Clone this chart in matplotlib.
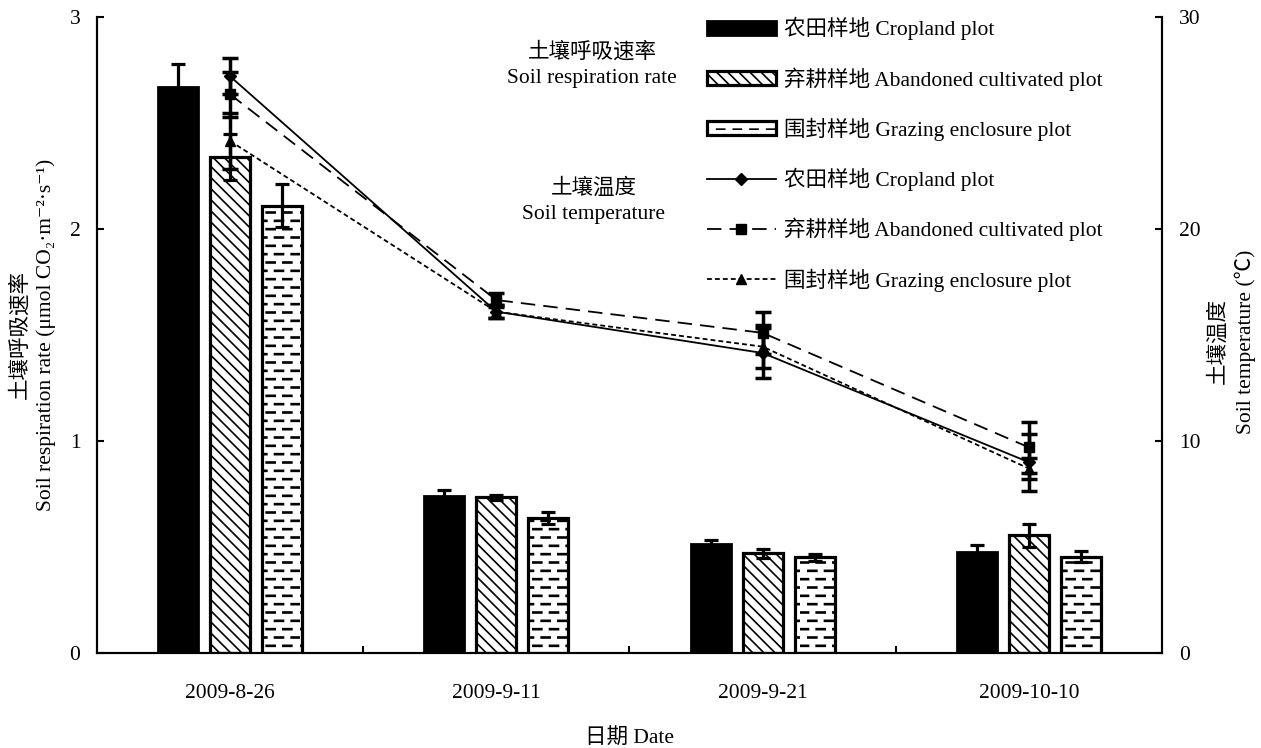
import warnings
import numpy as np
import matplotlib
matplotlib.use('Agg')
import matplotlib.pyplot as plt
import matplotlib.hatch as mhatch
from matplotlib.path import Path

warnings.filterwarnings('ignore')

plt.rcParams['font.family'] = ['Liberation Serif', 'Noto Sans CJK SC', 'DejaVu Sans']
plt.rcParams['font.size'] = 15.5
plt.rcParams['hatch.linewidth'] = 1.2

dates = ['2009-8-26', '2009-9-11', '2009-9-21', '2009-10-10']

# soil respiration rate (umol CO2 m-2 s-1), bars
resp_crop = [2.67, 0.74, 0.515, 0.475]
resp_crop_err = [0.11, 0.03, 0.02, 0.035]
resp_aband = [2.34, 0.735, 0.47, 0.555]
resp_aband_err = [0.11, 0.012, 0.022, 0.055]
resp_graz = [2.11, 0.635, 0.452, 0.455]
resp_graz_err = [0.1, 0.028, 0.016, 0.025]

# soil temperature (deg C), lines
temp_crop = [27.2, 16.1, 14.15, 9.0]
temp_crop_err = [0.85, 0.3, 1.2, 1.35]
temp_aband = [26.35, 16.65, 15.1, 9.7]
temp_aband_err = [1.05, 0.35, 1.0, 1.2]
temp_graz = [24.15, 16.1, 14.45, 8.7]
temp_graz_err = [1.3, 0.3, 1.0, 0.5]

lbl_crop = '农田样地 Cropland plot'
lbl_aband = '弃耕样地 Abandoned cultivated plot'
lbl_graz = '围封样地 Grazing enclosure plot'


# short staggered dashes, used as fill for the enclosure bars ('_')
class DashRowHatch(mhatch.HatchPatternBase):
    rows = 12
    per_row = 6
    length = 0.08

    def __init__(self, hatch, density):
        self.num_vertices = self.rows * self.per_row * 2 if '_' in hatch else 0

    def set_vertices_and_codes(self, vertices, codes):
        k = 0
        for i in range(self.rows):
            y = (i + 0.5) / self.rows
            shift = 0.5 / self.per_row if i % 2 else 0.0
            for j in range(self.per_row):
                x0 = j / self.per_row + shift
                vertices[k] = (x0, y)
                vertices[k + 1] = (x0 + self.length, y)
                codes[k] = Path.MOVETO
                codes[k + 1] = Path.LINETO
                k += 2


mhatch._hatch_types.append(DashRowHatch)

fig = plt.figure(figsize=(12.61, 7.48), dpi=100)
ax = fig.add_axes([0.0769, 0.127, 0.8446, 0.8503])
ax2 = ax.twinx()

x = np.arange(len(dates))
w = 0.15
off = 0.195
ekw = dict(elinewidth=2.3, capsize=5, capthick=2.3, ecolor='black')

b1 = ax.bar(x - off, resp_crop, w, yerr=resp_crop_err, color='black',
            edgecolor='black', linewidth=2, error_kw=ekw)
b2 = ax.bar(x, resp_aband, w, yerr=resp_aband_err, color='white',
            edgecolor='black', hatch='\\\\\\', linewidth=2.3, error_kw=ekw)
with plt.rc_context({'hatch.linewidth': 1.9}):
    b3 = ax.bar(x + off, resp_graz, w, yerr=resp_graz_err, color='white',
                edgecolor='black', hatch='_', linewidth=2.3, error_kw=ekw)

ax.set_xlim(-0.5, 3.5)
ax.set_ylim(0, 3)
ax.set_yticks([0, 1, 2, 3])
ax.set_xticks(x)
ax.set_xticklabels(dates)
ax.set_xticks([0.5, 1.5, 2.5], minor=True)
ax.tick_params(axis='x', which='major', length=0, pad=22)
ax.tick_params(axis='x', which='minor', direction='in', length=5, width=1.5)
ax.tick_params(axis='y', direction='in', length=5, width=1.5, pad=12)

# temperature on the right axis
ax2.set_ylim(0, 30)
ax2.set_yticks([0, 10, 20, 30])
ax2.tick_params(axis='y', direction='in', length=5, width=1.5, pad=12)
ebkw = dict(fmt='none', ecolor='black', elinewidth=2.5, capsize=6, capthick=2.5)
ax2.errorbar(x, temp_crop, yerr=temp_crop_err, **ebkw)
ax2.errorbar(x, temp_aband, yerr=temp_aband_err, **ebkw)
ax2.errorbar(x, temp_graz, yerr=temp_graz_err, **ebkw)
l1, = ax2.plot(x, temp_crop, color='black', lw=1.3, marker='D', ms=6)
l2, = ax2.plot(x, temp_aband, color='black', lw=1.3, ls=(0, (8, 4.5)),
               marker='s', ms=7)
l3, = ax2.plot(x, temp_graz, color='black', lw=1.3, ls=(0, (2.7, 1.7)),
               marker='^', ms=7)

for a in (ax, ax2):
    a.spines['top'].set_visible(False)
    for s in ('left', 'right', 'bottom'):
        a.spines[s].set_linewidth(1.5)

ax.set_ylabel('土壤呼吸速率\nSoil respiration rate (μmol CO₂·m⁻²·s⁻¹)',
              va='center', linespacing=1.35)
ax.yaxis.set_label_coords(-0.06, 0.5)
ax2.set_ylabel('土壤温度\nSoil temperature (℃)', va='center', linespacing=1.35)
ax2.yaxis.set_label_coords(1.066, 0.49)
ax.set_xlabel('日期 Date', labelpad=19)

fig.text(592 / 1261, 1 - 65 / 748, '土壤呼吸速率\nSoil respiration rate',
         ha='center', va='center', linespacing=1.45)
fig.text(594 / 1261, 1 - 201 / 748, '土壤温度\nSoil temperature',
         ha='center', va='center', linespacing=1.45)

ax2.legend([b1, b2, b3, l1, l2, l3],
           [lbl_crop, lbl_aband, lbl_graz, lbl_crop, lbl_aband, lbl_graz],
           loc='upper left', bbox_to_anchor=(707 / 1261, 1 - 17 / 748),
           bbox_transform=fig.transFigure, frameon=False,
           handlelength=3.2, handleheight=0.6, handletextpad=0.4,
           labelspacing=1.25, borderpad=0, borderaxespad=0)

fig.savefig('out.png', dpi=100)
